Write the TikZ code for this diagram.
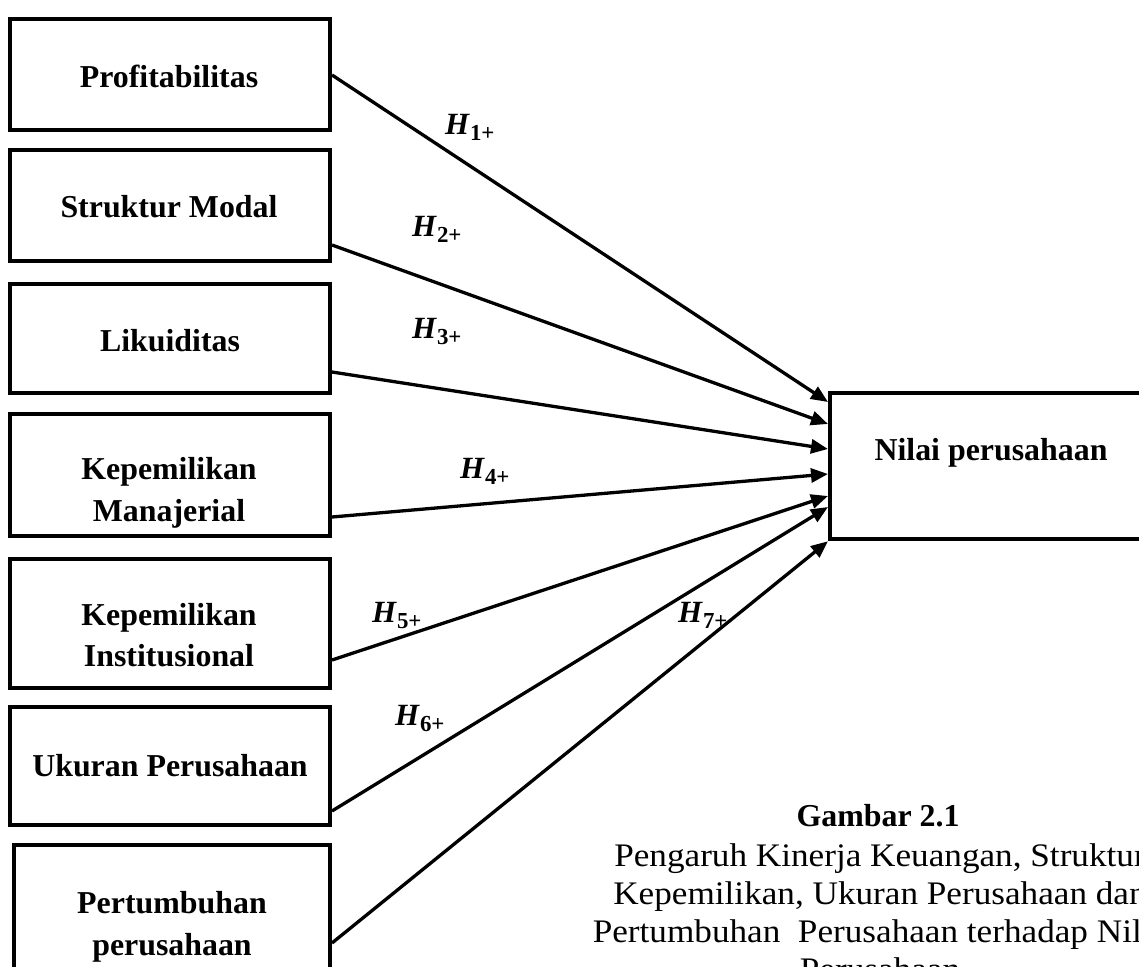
\documentclass[tikz,border=0pt]{standalone}
\usepackage{fontspec}
\setmainfont{Liberation Serif}
\newfontfamily\capfont[FakeStretch=1.07]{Liberation Serif}
\usetikzlibrary{arrows.meta}
\newcommand{\hyp}[1]{\textbf{\textit{H}}\raisebox{-6bp}{\fontsize{23}{23}\selectfont\bfseries #1}}
\tikzset{
  vbox/.style={draw, line width=4bp, minimum width=320bp, inner sep=0pt},
  vtext/.style={font=\fontsize{32}{42}\selectfont\bfseries, align=center, inner sep=0pt},
  hlab/.style={font=\fontsize{31}{36}\selectfont, anchor=base west, inner sep=0pt},
  link/.style={line width=3.3bp, -{Triangle[length=17bp,width=14bp]}},
  captext/.style={font=\capfont\fontsize{33}{38}\selectfont, anchor=base, inner sep=0pt},
  captitle/.style={font=\fontsize{32}{38}\selectfont\bfseries, anchor=base, inner sep=0pt},
}
\begin{document}
\begin{tikzpicture}[x=1bp,y=-1bp]
\useasboundingbox (0,0) rectangle (1139,967);
\clip (0,0) rectangle (1139,967);
% source boxes
\node[vbox, minimum height=111bp] (b1) at (170,74.5) {};
\node[vbox, minimum height=111bp] (b2) at (170,205.5) {};
\node[vbox, minimum height=109bp] (b3) at (170,338.5) {};
\node[vbox, minimum height=122bp] (b4) at (170,475) {};
\node[vbox, minimum height=129bp] (b5) at (170,623.5) {};
\node[vbox, minimum height=118bp] (b6) at (170,766) {};
\node[vbox, minimum height=160bp, minimum width=316bp] (b7) at (172,925) {};
% target box
\node[vbox, minimum width=322bp, minimum height=146.5bp] (nilai) at (991,466) {};
% box texts
\node[vtext, anchor=base] (t1) at (169,87) {Profitabilitas};
\node[vtext, anchor=base] (t2) at (169,217) {Struktur Modal};
\node[vtext, anchor=base] (t3) at (170,351) {Likuiditas};
\node[vtext] (t4) at (169,493.2) {Kepemilikan\\Manajerial};
\node[vtext] (t5) at (169,635.2) {Kepemilikan\\Institusional};
\node[vtext, anchor=base] (t6) at (170,776) {Ukuran Perusahaan};
\node[vtext] (t7) at (172,926.7) {Pertumbuhan\\perusahaan};
\node[vtext, anchor=base] (tn) at (991,460) {Nilai perusahaan};
% connectors
\draw[link] ([yshift=-0.5bp]b1.east) -- ([yshift=64bp]nilai.west);
\draw[link] ([yshift=-39.5bp]b2.east) -- ([yshift=42bp]nilai.west);
\draw[link] ([yshift=-33.5bp]b3.east) -- ([yshift=17bp]nilai.west);
\draw[link] ([yshift=-42bp]b4.east) -- ([yshift=-8bp]nilai.west);
\draw[link] ([yshift=-36.5bp]b5.east) -- ([yshift=-30bp]nilai.west);
\draw[link] ([yshift=-45bp]b6.east) -- ([yshift=-41bp]nilai.west);
\draw[link] ([yshift=-18bp]b7.east) -- (nilai.south west);
% hypothesis labels
\node[hlab] (h1) at (445,134) {\hyp{1+}};
\node[hlab] (h2) at (412,236) {\hyp{2+}};
\node[hlab] (h3) at (412,338) {\hyp{3+}};
\node[hlab] (h4) at (460,478) {\hyp{4+}};
\node[hlab] (h5) at (372,622) {\hyp{5+}};
\node[hlab] (h6) at (395,725) {\hyp{6+}};
\node[hlab] (h7) at (678,622) {\hyp{7+}};
% caption
\node[captitle] (g) at (878,826) {Gambar 2.1};
\node[captext] (c1) at (880,866) {Pengaruh Kinerja Keuangan, Struktur};
\node[captext] (c2) at (880,904) {Kepemilikan, Ukuran Perusahaan dan};
\node[captext] (c3) at (880,942) {Pertumbuhan\ \ Perusahaan terhadap Nilai};
\node[captext] (c4) at (880,980) {Perusahaan};
\end{tikzpicture}
\end{document}
